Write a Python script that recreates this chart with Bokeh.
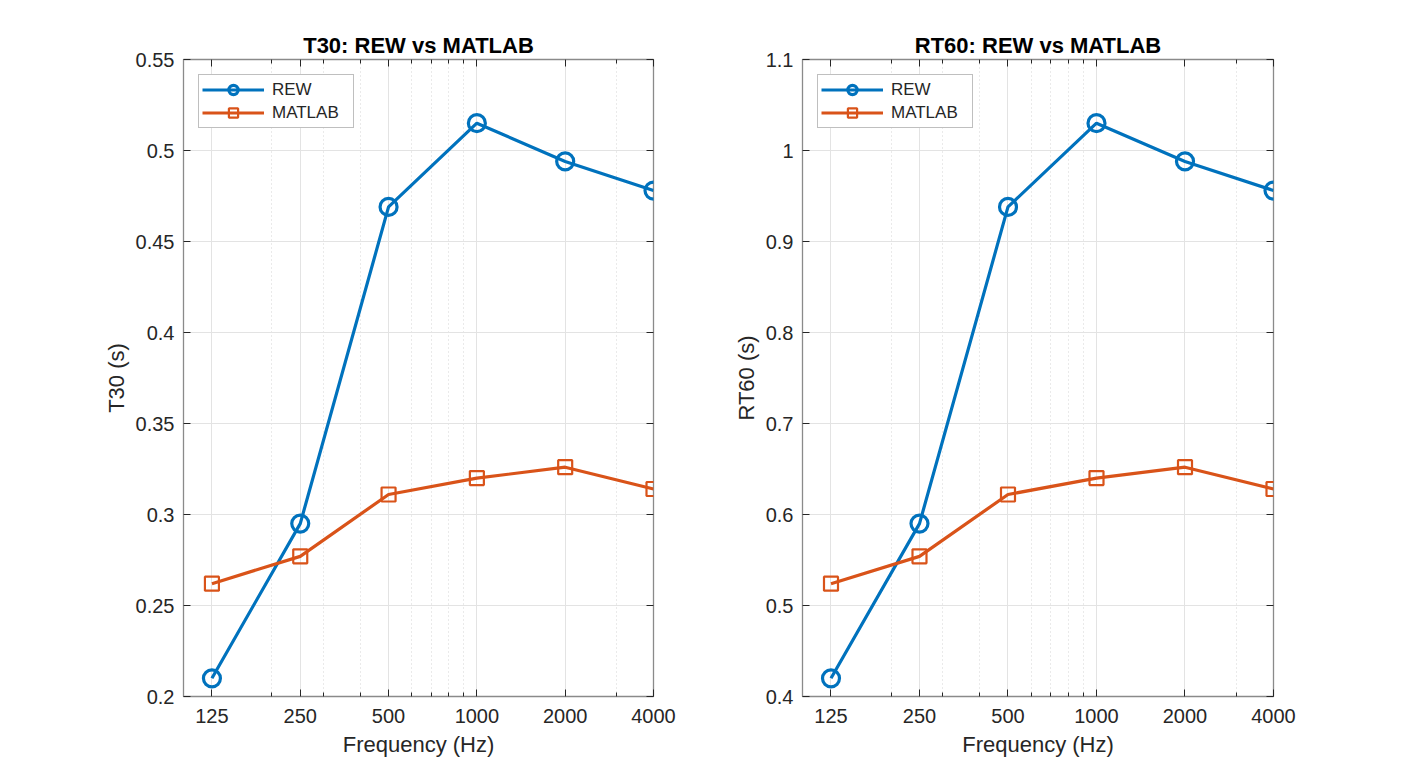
from bokeh.plotting import figure
from bokeh.layouts import row
from bokeh.models import (FixedTicker, CustomJSTickFormatter, LogAxis, LinearAxis,
                          Legend, LegendItem)
from bokeh.embed import file_html
from bokeh.resources import INLINE

freqs = [125, 250, 500, 1000, 2000, 4000]
freq_minor = [200, 300, 400, 600, 700, 800, 900, 3000]
freq_labels = ["125", "250", "500", "1000", "2000", "4000"]

t30_rew = [0.210, 0.295, 0.469, 0.515, 0.494, 0.478]
t30_matlab = [0.262, 0.277, 0.311, 0.320, 0.326, 0.314]
rt60_rew = [0.420, 0.590, 0.938, 1.030, 0.988, 0.956]
rt60_matlab = [0.524, 0.554, 0.622, 0.640, 0.652, 0.628]

t30_yticks = [0.2, 0.25, 0.3, 0.35, 0.4, 0.45, 0.5, 0.55]
rt60_yticks = [0.4, 0.5, 0.6, 0.7, 0.8, 0.9, 1.0, 1.1]

BLUE = "#0072BD"
ORANGE = "#D95319"
FONT = "Liberation Sans"
TXT = "#262626"
BOX = "#8a8a8a"

xfmt_code = "return tick.toFixed(0);"
yfmt_code = "return parseFloat(tick.toFixed(4)).toString();"


def style_axis(ax, labels=True, minor=False):
    ax.axis_line_color = None
    ax.major_tick_in = 7
    ax.major_tick_out = 0
    ax.major_tick_line_color = TXT
    ax.major_tick_line_width = 1
    if minor:
        ax.minor_tick_in = 4
        ax.minor_tick_out = 0
        ax.minor_tick_line_color = TXT
        ax.minor_tick_line_width = 1
    else:
        ax.minor_tick_line_color = None
    if labels:
        ax.major_label_text_font = FONT
        ax.major_label_text_font_size = "20px"
        ax.major_label_text_color = TXT
        ax.axis_label_text_font = FONT
        ax.axis_label_text_font_size = "22px"
        ax.axis_label_text_font_style = "normal"
        ax.axis_label_text_color = TXT
    else:
        ax.major_label_text_font_size = "1px"
        ax.major_label_text_color = None
        ax.major_label_standoff = 0


def make_plot(title, ylabel, yrange, yticks, rew, mat, width, mb_left, mb_right):
    p = figure(width=width, height=774, x_axis_type="log",
               x_range=(100, 4000), y_range=yrange,
               output_backend="svg", toolbar_location=None,
               min_border_left=mb_left, min_border_right=mb_right,
               min_border_top=59, min_border_bottom=78)
    p.background_fill_color = "white"
    p.border_fill_color = "white"
    p.outline_line_color = BOX
    p.outline_line_width = 1.3

    p.title.text = title
    p.title.align = "center"
    p.title.text_font = FONT
    p.title.text_font_size = "22px"
    p.title.text_font_style = "bold"
    p.title.text_color = "#000000"
    p.title.standoff = 4

    xt = FixedTicker(ticks=freqs, minor_ticks=freq_minor)
    yt = FixedTicker(ticks=yticks, minor_ticks=[])

    p.xaxis.ticker = xt
    p.xaxis.formatter = CustomJSTickFormatter(code=xfmt_code)
    p.xaxis.axis_label = "Frequency (Hz)"
    p.xaxis.major_label_standoff = 12
    p.xaxis.axis_label_standoff = 6
    style_axis(p.xaxis[0], labels=True, minor=True)

    p.yaxis.ticker = yt
    p.yaxis.formatter = CustomJSTickFormatter(code=yfmt_code)
    p.yaxis.axis_label = ylabel
    p.yaxis.major_label_standoff = 9
    p.yaxis.axis_label_standoff = 4
    style_axis(p.yaxis[0], labels=True, minor=False)

    top = LogAxis(ticker=FixedTicker(ticks=freqs, minor_ticks=freq_minor))
    style_axis(top, labels=False, minor=True)
    p.above = [top] + list(p.above)
    right = LinearAxis(ticker=FixedTicker(ticks=yticks, minor_ticks=[]))
    style_axis(right, labels=False, minor=False)
    p.add_layout(right, "right")

    p.xgrid.grid_line_color = "#e3e3e3"
    p.xgrid.grid_line_width = 1
    p.xgrid.minor_grid_line_color = "#d4d4d4"
    p.xgrid.minor_grid_line_dash = "1 3"
    p.xgrid.minor_grid_line_width = 1
    p.ygrid.grid_line_color = "#e3e3e3"
    p.ygrid.grid_line_width = 1

    l1 = p.line(freqs, rew, line_color=BLUE, line_width=3.2)
    s1 = p.scatter(freqs, rew, marker="circle", size=17, fill_color=None,
                   line_color=BLUE, line_width=3.2)
    l2 = p.line(freqs, mat, line_color=ORANGE, line_width=3.2)
    s2 = p.scatter(freqs, mat, marker="square", size=14, fill_color=None,
                   line_color=ORANGE, line_width=2.2)

    legend = Legend(items=[LegendItem(label="REW", renderers=[l1, s1]),
                           LegendItem(label="MATLAB", renderers=[l2, s2])],
                    location="top_left", margin=15, padding=3, spacing=0,
                    glyph_width=62, glyph_height=23, label_height=23,
                    label_width=78, label_standoff=8,
                    label_text_font=FONT, label_text_font_size="17px",
                    label_text_color=TXT,
                    border_line_color="#7f7f7f", border_line_width=1,
                    background_fill_color="white", background_fill_alpha=1.0)
    p.add_layout(legend, "center")
    return p


p1 = make_plot("T30: REW vs MATLAB", "T30 (s)", (0.2, 0.55), t30_yticks,
               t30_rew, t30_matlab, 708, 183, 55)
p2 = make_plot("RT60: REW vs MATLAB", "RT60 (s)", (0.4, 1.1), rt60_yticks,
               rt60_rew, rt60_matlab, 691, 94, 126)

layout = row(p1, p2)
open("out.html", "w").write(file_html(layout, INLINE))
